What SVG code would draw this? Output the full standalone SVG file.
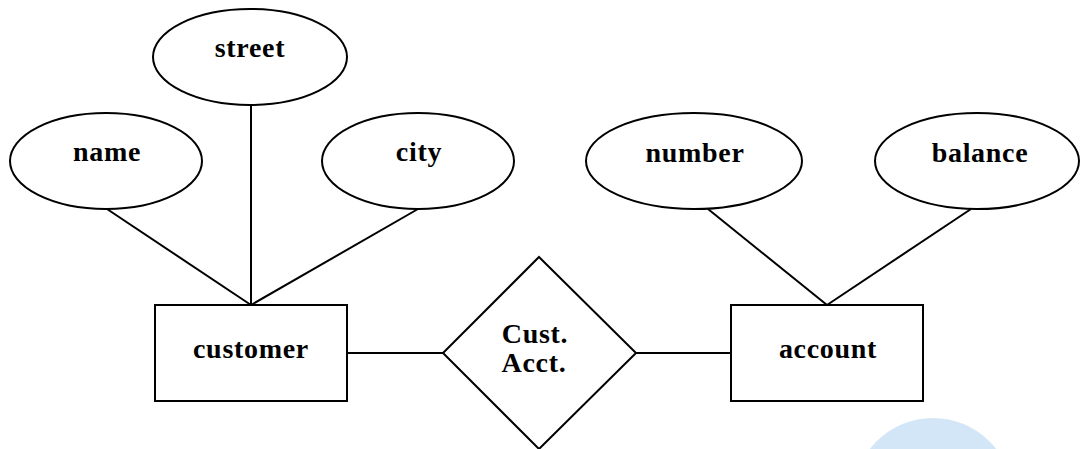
<svg xmlns="http://www.w3.org/2000/svg" width="1081" height="449" viewBox="0 0 1081 449">
<style>
.shape{fill:#ffffff;stroke:#000000;stroke-width:2}
.conn line{stroke:#000000;stroke-width:2}
.lbl{font-family:"Liberation Serif","Times New Roman",serif;font-weight:bold;font-size:28px;letter-spacing:0.7px;fill:#000000;text-anchor:middle}
</style>
<rect width="1081" height="449" fill="#ffffff"/>
<circle cx="933" cy="498" r="80" fill="#d3e6f8"/>
<g id="connectors" class="conn">
<line x1="251" y1="89" x2="251" y2="305"/>
<line x1="107" y1="209" x2="251" y2="305"/>
<line x1="418" y1="209" x2="251" y2="305"/>
<line x1="708" y1="209" x2="827" y2="305"/>
<line x1="971" y1="209" x2="827" y2="305"/>
<line x1="347" y1="353" x2="443" y2="353"/>
<line x1="636" y1="353" x2="731" y2="353"/>
</g>
<g id="street"><ellipse class="shape" cx="250" cy="57" rx="97" ry="48"/><text class="lbl" x="250" y="57">street</text></g>
<g id="name"><ellipse class="shape" cx="106" cy="161" rx="96" ry="48"/><text class="lbl" x="107" y="161">name</text></g>
<g id="city"><ellipse class="shape" cx="418" cy="161" rx="96" ry="48"/><text class="lbl" x="419" y="161">city</text></g>
<g id="number"><ellipse class="shape" cx="694" cy="161" rx="108" ry="48"/><text class="lbl" x="695" y="162">number</text></g>
<g id="balance"><ellipse class="shape" cx="977" cy="161" rx="102" ry="48"/><text class="lbl" x="980" y="162">balance</text></g>
<g id="customer"><rect class="shape" x="155" y="305" width="192" height="96"/><text class="lbl" x="251" y="358">customer</text></g>
<g id="account"><rect class="shape" x="731" y="305" width="192" height="96"/><text class="lbl" x="828" y="358">account</text></g>
<g id="custacct"><polygon class="shape" points="539,257 636,353 539,449 443,353"/><text class="lbl" x="535" y="343">Cust.</text><text class="lbl" x="534" y="372">Acct.</text></g>
</svg>
